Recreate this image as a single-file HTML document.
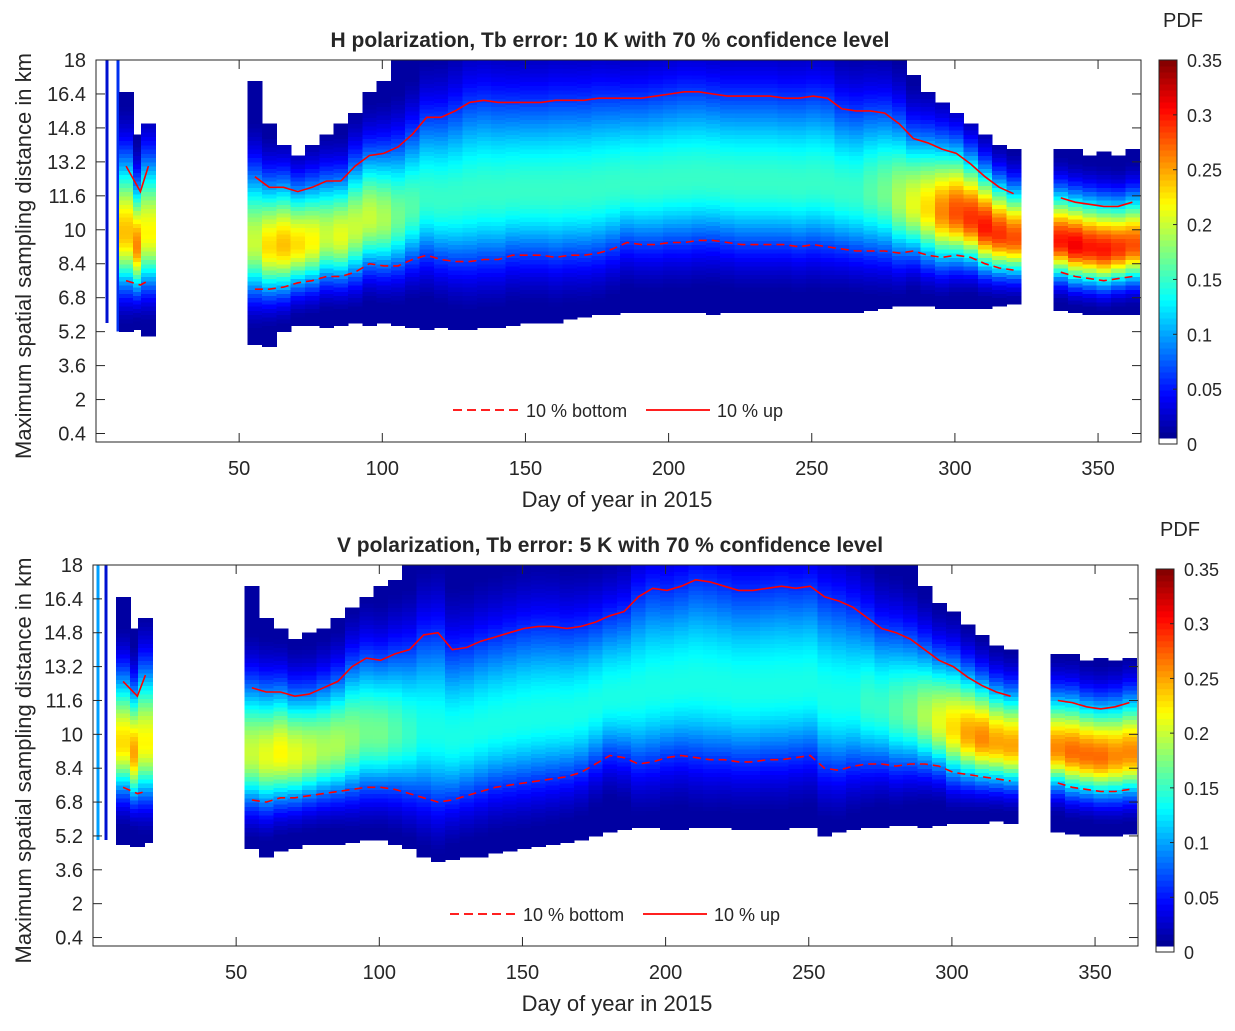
<!DOCTYPE html>
<html><head><meta charset="utf-8"><style>
body{margin:0;background:#fff;}
svg text{font-family:"Liberation Sans",Arial,sans-serif;fill:#262626;}
</style></head><body>
<svg id="svg" width="1235" height="1026" viewBox="0 0 1235 1026" xmlns="http://www.w3.org/2000/svg"></svg>
<script>
// ---- data (5-day bins) ----
const seg2Days = [];
for (let k = 0; k < 54; k++) seg2Days.push(55.5 + 5 * k);
const binDays = [10.5, 15.5, 18.3].concat(seg2Days, [337, 342, 347, 352, 357, 362]);
const xTickLabels = [50, 100, 150, 200, 250, 300, 350];
const yTickLabels = [0.4, 2, 3.6, 5.2, 6.8, 8.4, 10, 11.6, 13.2, 14.8, 16.4, 18];
const cbTickLabels = [0, 0.05, 0.1, 0.15, 0.2, 0.25, 0.3, 0.35];

const hUp = [13,11.8,13,
 12.5,12,12,11.8,12,12.3,12.3,13,13.5,13.6,
 13.9,14.5,15.3,15.3,15.6,16,16.1,16,16,16,
 16,16.1,16.1,16.1,16.2,16.2,16.2,16.2,16.3,16.4,
 16.5,16.5,16.4,16.3,16.3,16.3,16.3,16.2,16.2,16.3,
 16.2,15.7,15.6,15.6,15.5,15,14.3,14.1,13.8,13.6,
 13.1,12.5,12,11.7,
 11.5,11.3,11.2,11.1,11.1,11.3];
const hBottom = [7.6,7.4,7.6,
 7.2,7.2,7.3,7.5,7.6,7.8,7.8,8,8.4,8.3,
 8.3,8.6,8.8,8.6,8.5,8.5,8.6,8.6,8.8,8.8,
 8.8,8.7,8.8,8.8,8.9,9.1,9.4,9.3,9.3,9.4,
 9.4,9.5,9.5,9.4,9.3,9.3,9.3,9.3,9.2,9.3,
 9.2,9.1,9.0,9.0,9.0,8.9,9.0,8.8,8.7,8.8,
 8.7,8.4,8.2,8.1,
 8.0,7.8,7.7,7.6,7.7,7.8];
const hLow = [5.2,5.3,5.0,
 4.6,4.5,5.2,5.5,5.5,5.4,5.5,5.6,5.5,5.6,
 5.5,5.4,5.3,5.4,5.3,5.3,5.4,5.4,5.5,5.6,
 5.6,5.6,5.8,5.9,6.0,6.0,6.1,6.1,6.1,6.1,
 6.1,6.1,6.0,6.1,6.1,6.1,6.1,6.1,6.1,6.1,
 6.1,6.1,6.1,6.2,6.3,6.4,6.4,6.4,6.3,6.3,
 6.3,6.3,6.4,6.5,
 6.2,6.1,6.0,6.0,6.0,6.0];
const hHigh = [16.5,14.5,15,
 17,15,14,13.5,14,14.5,15,15.5,16.5,17,
 18,18,18,18,18,18,18,18,18,18,
 18,18,18,18,18,18,18,18,18,18,
 18,18,18,18,18,18,18,18,18,18,
 18,18,18,18,18,18,17.3,16.5,16,15.5,
 15,14.5,14,13.8,
 13.8,13.8,13.5,13.7,13.5,13.8];
const hPeak = [0.24,0.26,0.22,
 0.2,0.23,0.24,0.23,0.22,0.2,0.21,0.2,0.2,0.19,
 0.17,0.16,0.15,0.15,0.15,0.15,0.15,0.15,0.15,0.15,
 0.15,0.15,0.15,0.15,0.15,0.15,0.15,0.15,0.15,0.15,
 0.15,0.15,0.15,0.15,0.15,0.15,0.15,0.15,0.15,0.15,
 0.15,0.15,0.15,0.16,0.17,0.19,0.21,0.23,0.26,0.28,
 0.29,0.3,0.29,0.28,
 0.3,0.31,0.3,0.3,0.29,0.28];

const vUp = [12.5,11.8,12.8,
 12.2,12,12,11.8,11.9,12.2,12.5,13.2,13.6,13.5,
 13.8,14,14.7,14.8,14.0,14.1,14.4,14.6,14.8,15.0,
 15.1,15.1,15.0,15.1,15.3,15.6,15.8,16.5,16.9,16.8,
 17.0,17.3,17.2,17.0,16.8,16.8,16.9,17.0,16.9,17.0,
 16.5,16.3,16.0,15.5,15.0,14.8,14.5,14.0,13.5,13.2,
 12.7,12.3,12.0,11.8,
 11.6,11.5,11.3,11.2,11.3,11.5];
const vBottom = [7.5,7.2,7.3,
 6.9,6.8,7.0,7.0,7.1,7.2,7.3,7.4,7.5,7.5,
 7.4,7.2,7.0,6.8,6.9,7.1,7.3,7.5,7.6,7.7,
 7.8,7.9,8.0,8.2,8.6,9.0,8.9,8.6,8.7,8.9,
 9.0,8.9,8.8,8.8,8.7,8.7,8.8,8.8,8.9,9.0,
 8.4,8.3,8.5,8.6,8.6,8.5,8.6,8.6,8.5,8.2,
 8.1,8.0,7.9,7.8,
 7.7,7.5,7.4,7.3,7.3,7.4];
const vLow = [4.8,4.7,4.9,
 4.6,4.2,4.5,4.6,4.8,4.8,4.8,4.9,5.0,5.0,
 4.8,4.6,4.2,4.0,4.1,4.2,4.2,4.4,4.5,4.6,
 4.7,4.8,4.9,5.0,5.2,5.4,5.5,5.6,5.6,5.5,
 5.5,5.6,5.6,5.6,5.5,5.5,5.5,5.5,5.6,5.6,
 5.2,5.4,5.5,5.6,5.6,5.7,5.7,5.6,5.7,5.8,
 5.8,5.8,5.9,5.8,
 5.4,5.3,5.2,5.2,5.2,5.3];
const vHigh = [16.5,15,15.5,
 17,15.5,15,14.5,14.8,15,15.5,16,16.5,17,
 17.3,18,18,18,18,18,18,18,18,18,
 18,18,18,18,18,18,18,18,18,18,
 18,18,18,18,18,18,18,18,18,18,
 18,18,18,18,18,18,18,17,16.2,15.8,
 15.2,14.7,14.2,14.0,
 13.8,13.8,13.5,13.6,13.5,13.6];
const vPeak = [0.23,0.25,0.22,
 0.2,0.21,0.22,0.21,0.2,0.19,0.19,0.18,0.17,0.17,
 0.16,0.15,0.14,0.14,0.14,0.14,0.14,0.14,0.14,0.14,
 0.14,0.14,0.14,0.14,0.14,0.14,0.14,0.14,0.14,0.14,
 0.14,0.14,0.14,0.14,0.14,0.14,0.14,0.14,0.14,0.14,
 0.14,0.14,0.14,0.15,0.15,0.16,0.17,0.19,0.21,0.23,
 0.25,0.26,0.25,0.25,
 0.26,0.27,0.27,0.27,0.26,0.26];

// ---- rendering ----
const NS = "http://www.w3.org/2000/svg";
const svg = document.getElementById('svg');
function mk(tag, attrs, parent) {
  const e = document.createElementNS(NS, tag);
  for (const k in attrs) e.setAttribute(k, attrs[k]);
  (parent || svg).appendChild(e);
  return e;
}
function clamp(v) { return Math.max(0, Math.min(1, v)); }
function jet(t) {
  const r = clamp(1.5 - Math.abs(4 * t - 3)), g = clamp(1.5 - Math.abs(4 * t - 2)), b = clamp(1.5 - Math.abs(4 * t - 1));
  return 'rgb(' + Math.round(r * 255) + ',' + Math.round(g * 255) + ',' + Math.round(b * 255) + ')';
}

function drawChart(cfg, up, bottom, low, high, peak) {
  const xs = d => cfg.x0 + (d / 365) * (cfg.x1 - cfg.x0);
  const ys = v => cfg.y1 - (v / 18) * (cfg.y1 - cfg.y0);
  const g = mk('g', {});
  
  
  const hm = mk('g', {'shape-rendering': 'crispEdges'}, g);
  
  
  // thin early stripes
  cfg.stripes.forEach(s => {
    const r = mk('rect', {x: xs(s.d) - 1.5, y: ys(s.hi), width: 3, height: ys(s.lo) - ys(s.hi), fill: s.c}, hm);
    
    
  });
  const step = 0.2;
  for (let i = 0; i < binDays.length; i++) {
    const d = binDays[i];
    const xa = xs(d - 2.5), xb = xs(d + 2.5);
    const c = bottom[i] + (up[i] - bottom[i]) * 0.42;
    const sb = (c - bottom[i]) / 1.3, su = (up[i] - c) / 1.3;
    for (let v = low[i]; v < high[i]; v += step) {
      const vm = Math.min(v + step / 2, high[i]);
      const s = vm < c ? sb : su;
      let val = peak[i] * Math.exp(-0.5 * Math.pow((vm - c) / s, 2));
      val = Math.max(val, 0.012);
      const top = Math.min(v + step, high[i]);
      const r = mk('rect', {x: xa.toFixed(1), y: ys(top).toFixed(1), width: (xb - xa + 0.6).toFixed(1), height: (ys(v) - ys(top) + 0.6).toFixed(1), fill: jet(val / 0.35)}, hm);
      
      
    }
  }
  // lines
  function linePath(arr) {
    let d = '', prev = null;
    for (let i = 0; i < binDays.length; i++) {
      const cmd = (prev === null || binDays[i] - prev > 7) ? 'M' : 'L';
      d += cmd + xs(binDays[i]).toFixed(1) + ',' + ys(arr[i]).toFixed(1) + ' ';
      prev = binDays[i];
    }
    return d;
  }
  const lu = mk('path', {d: linePath(up), fill: 'none', stroke: '#f00', 'stroke-width': 1.6}, g);
  
  
  const lb = mk('path', {d: linePath(bottom), fill: 'none', stroke: '#f00', 'stroke-width': 1.6, 'stroke-dasharray': '8,5'}, g);
  
  
  // axes box
  const box = mk('rect', {x: cfg.x0, y: cfg.y0, width: cfg.x1 - cfg.x0, height: cfg.y1 - cfg.y0, fill: 'none', stroke: '#262626', 'stroke-width': 1}, g);
  
  
  xTickLabels.forEach(t => {
    const x = xs(t);
    mk('line', {x1: x, x2: x, y1: cfg.y1, y2: cfg.y1 - 9, stroke: '#262626'}, g);
    mk('line', {x1: x, x2: x, y1: cfg.y0, y2: cfg.y0 + 9, stroke: '#262626'}, g);
    const tx = mk('text', {x: x, y: cfg.y1 + 33, 'text-anchor': 'middle', 'font-size': 20}, g);
    tx.textContent = t;
    
    
  });
  yTickLabels.forEach(t => {
    const y = ys(t);
    mk('line', {x1: cfg.x0, x2: cfg.x0 + 9, y1: y, y2: y, stroke: '#262626'}, g);
    mk('line', {x1: cfg.x1, x2: cfg.x1 - 9, y1: y, y2: y, stroke: '#262626'}, g);
    const tx = mk('text', {x: cfg.x0 - 10, y: y + 7, 'text-anchor': 'end', 'font-size': 20}, g);
    tx.textContent = t;
    
    
  });
  const title = mk('text', {x: 610, y: cfg.y0 - 13, 'text-anchor': 'middle', 'font-size': 21, 'font-weight': 'bold'}, g);
  title.textContent = cfg.title;
  
  
  const xl = mk('text', {x: 617, y: cfg.y1 + 65, 'text-anchor': 'middle', 'font-size': 22}, g);
  xl.textContent = 'Day of year in 2015';
  
  
  const ym = (cfg.y0 + cfg.y1) / 2 + 5;
  const yl = mk('text', {x: 0, y: 0, 'text-anchor': 'middle', 'font-size': 22, transform: 'translate(31,' + ym + ') rotate(-90)'}, g);
  yl.textContent = 'Maximum spatial sampling distance in km';
  
  
  // legend
  const ly = cfg.y1 - 32;
  const leg = mk('g', {}, g);
  
  
  mk('line', {x1: cfg.legX, x2: cfg.legX + 66, y1: ly, y2: ly, stroke: '#f00', 'stroke-width': 1.8, 'stroke-dasharray': '9,5'}, leg);
  const t1 = mk('text', {x: cfg.legX + 73, y: ly + 7, 'font-size': 18}, leg);
  t1.textContent = '10 % bottom';
  
  
  mk('line', {x1: cfg.legX + 193, x2: cfg.legX + 257, y1: ly, y2: ly, stroke: '#f00', 'stroke-width': 1.8}, leg);
  const t2 = mk('text', {x: cfg.legX + 264, y: ly + 7, 'font-size': 18}, leg);
  t2.textContent = '10 % up';
  
  
  // colorbar
  const cb = mk('g', {}, g);
  
  
  const cby = v => cfg.cbBot - (v / 0.35) * (cfg.cbBot - cfg.cbTop);
  const n = 64;
  for (let k = 0; k < n; k++) {
    const v0 = k / n * 0.35, v1 = (k + 1) / n * 0.35;
    mk('rect', {x: cfg.cbX, y: cby(v1), width: 18, height: cby(v0) - cby(v1) + 0.5, fill: k === 0 ? '#fff' : jet((k + 0.5) / n)}, cb);
  }
  mk('rect', {x: cfg.cbX, y: cfg.cbTop, width: 18, height: cfg.cbBot - cfg.cbTop, fill: 'none', stroke: '#262626'}, cb);
  cbTickLabels.forEach(t => {
    const y = cby(t);
    mk('line', {x1: cfg.cbX + 18, x2: cfg.cbX + 14, y1: y, y2: y, stroke: '#262626'}, cb);
    const tx = mk('text', {x: cfg.cbX + 28, y: y + 7, 'font-size': 18}, cb);
    tx.textContent = t;
    
    
  });
  const pdf = mk('text', {x: cfg.cbX + 24, y: cfg.cbTop - 33, 'text-anchor': 'middle', 'font-size': 20}, cb);
  pdf.textContent = 'PDF';
  
  
}

drawChart({name: 'chart-h-polarization', x0: 96, x1: 1141, y0: 60, y1: 442,
  title: 'H polarization, Tb error: 10 K with 70 % confidence level', legX: 453,
  cbX: 1159, cbTop: 60, cbBot: 444,
  stripes: [{d: 3.9, lo: 5.6, hi: 18, c: '#0010d0'}, {d: 7.6, lo: 5.2, hi: 18, c: '#0030f0'}]},
  hUp, hBottom, hLow, hHigh, hPeak);
drawChart({name: 'chart-v-polarization', x0: 93, x1: 1138, y0: 565, y1: 946,
  title: 'V polarization, Tb error: 5 K with 70 % confidence level', legX: 450,
  cbX: 1156, cbTop: 569, cbBot: 952,
  stripes: [{d: 1.8, lo: 5, hi: 18, c: '#00a0ff'}, {d: 4.6, lo: 5, hi: 18, c: '#0010d0'}]},
  vUp, vBottom, vLow, vHigh, vPeak);
</script>
</body></html>
